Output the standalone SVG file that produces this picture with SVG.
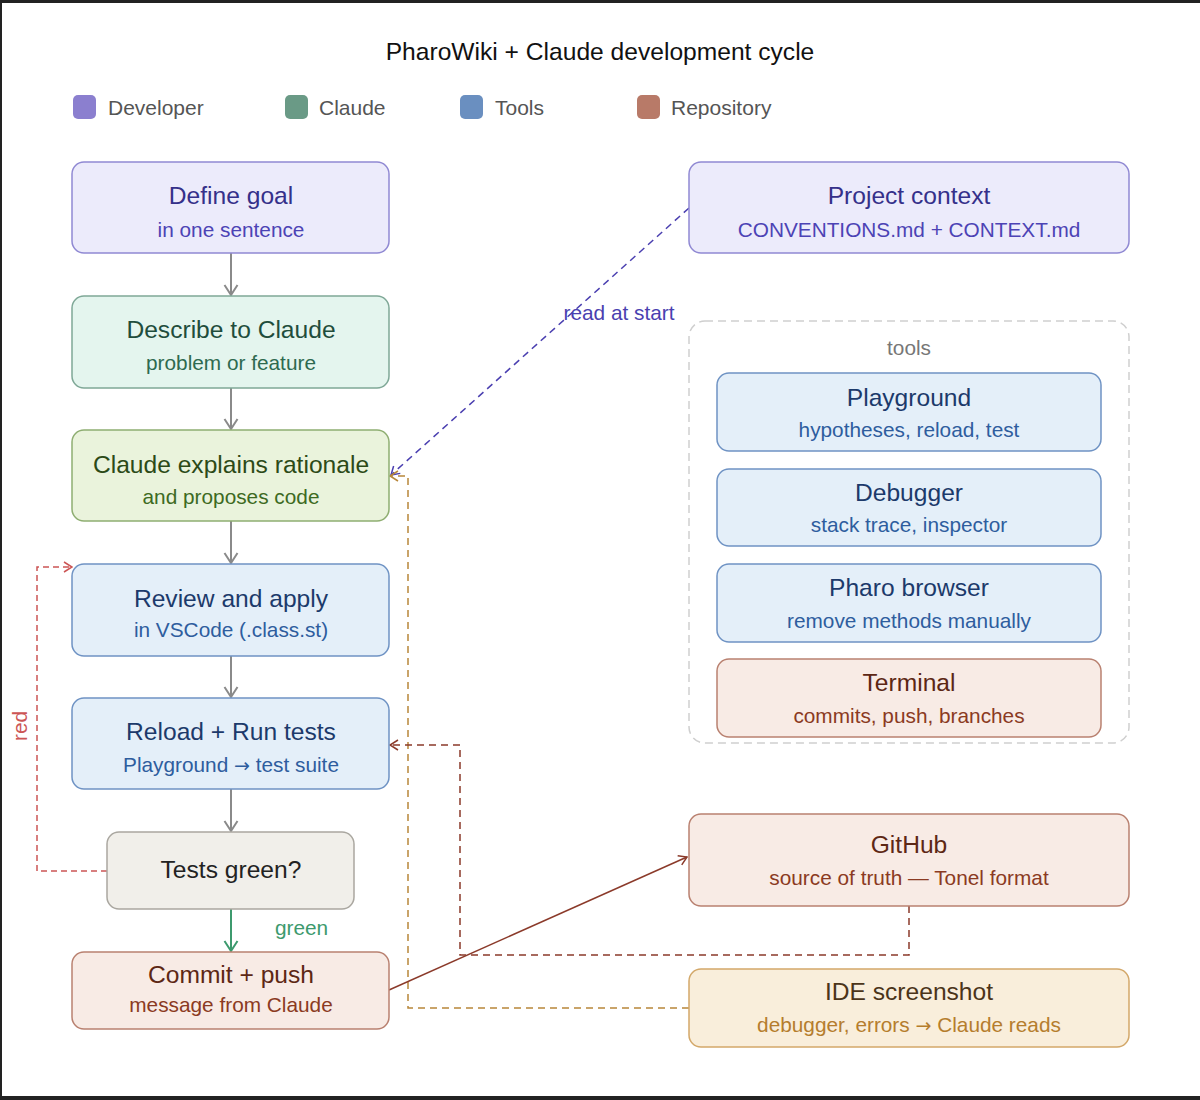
<svg xmlns="http://www.w3.org/2000/svg" width="1200" height="1100" viewBox="0 0 1200 1100">
<defs>
<style>
text{font-family:"Liberation Sans",Arial,sans-serif;}
.t{font-size:24.6px;text-anchor:middle;}
.s{font-size:20.8px;text-anchor:middle;}
.lg{font-size:21px;fill:#555;}
.ar{font-family:"DejaVu Sans",sans-serif;font-size:19px;}
.node{stroke-width:1.5;}
.dev{fill:#ecebfb;stroke:#9089d3;}
.dev .t{fill:#35308a;} .dev .s{fill:#4c43b5;}
.cl1{fill:#e4f5ee;stroke:#7fa897;}
.cl2{fill:#eaf3dc;stroke:#8fae72;}
.tool{fill:#e4eff9;stroke:#6f93c4;}
.dec{fill:#f1efea;stroke:#aaa7a0;}
.repo{fill:#f8ebe5;stroke:#b98170;}
.ide{fill:#f9eedb;stroke:#d3a86a;}
.e{fill:none;}
.gray{stroke:#8a8a8a;stroke-width:2;}
.grn{stroke:#3d9a6e;stroke-width:2;}
.red{stroke:#cc5555;stroke-width:1.5;stroke-dasharray:6 4;}
.pur{stroke:#4a3fb0;stroke-width:1.5;stroke-dasharray:7 5;}
.org{stroke:#b8873a;stroke-width:1.5;stroke-dasharray:7 5;}
.brd{stroke:#8b3a2a;stroke-width:1.5;stroke-dasharray:7 5;}
.brs{stroke:#8b3a2a;stroke-width:1.5;}
</style>
<marker id="mGray" markerUnits="userSpaceOnUse" markerWidth="12" markerHeight="16" viewBox="0 0 12 16" refX="11" refY="8" orient="auto"><path d="M1,1.5 L11,8 L1,14.5" fill="none" stroke="#8a8a8a" stroke-width="2"/></marker>
<marker id="mGrn" markerUnits="userSpaceOnUse" markerWidth="12" markerHeight="16" viewBox="0 0 12 16" refX="11" refY="8" orient="auto"><path d="M1,1.5 L11,8 L1,14.5" fill="none" stroke="#3d9a6e" stroke-width="2"/></marker>
<marker id="mRed" markerUnits="userSpaceOnUse" markerWidth="10" markerHeight="12" viewBox="0 0 10 12" refX="9" refY="6" orient="auto"><path d="M1,1 L9,6 L1,11" fill="none" stroke="#cc5555" stroke-width="1.5"/></marker>
<marker id="mPur" markerUnits="userSpaceOnUse" markerWidth="10" markerHeight="12" viewBox="0 0 10 12" refX="9" refY="6" orient="auto"><path d="M1,1 L9,6 L1,11" fill="none" stroke="#4a3fb0" stroke-width="1.5"/></marker>
<marker id="mOrg" markerUnits="userSpaceOnUse" markerWidth="10" markerHeight="12" viewBox="0 0 10 12" refX="9" refY="6" orient="auto"><path d="M1,1 L9,6 L1,11" fill="none" stroke="#b8873a" stroke-width="1.5"/></marker>
<marker id="mBrd" markerUnits="userSpaceOnUse" markerWidth="10" markerHeight="12" viewBox="0 0 10 12" refX="9" refY="6" orient="auto"><path d="M1,1 L9,6 L1,11" fill="none" stroke="#8b3a2a" stroke-width="1.5"/></marker>
</defs>
<rect x="0" y="0" width="1200" height="1100" fill="#ffffff"/>
<rect x="0" y="0" width="1200" height="3" fill="#222"/>
<rect x="0" y="0" width="2" height="1100" fill="#222"/>
<rect x="0" y="1096" width="1200" height="4" fill="#222"/>

<text x="600" y="60" class="t" fill="#111">PharoWiki + Claude development cycle</text>

<g id="legend">
<rect x="73" y="95" width="23" height="24" rx="5" fill="#8b7fcf"/><text x="108" y="115" class="lg">Developer</text>
<rect x="285" y="95" width="23" height="24" rx="5" fill="#6a9a86"/><text x="319" y="115" class="lg">Claude</text>
<rect x="460" y="95" width="23" height="24" rx="5" fill="#6a8fc0"/><text x="495" y="115" class="lg">Tools</text>
<rect x="637" y="95" width="23" height="24" rx="5" fill="#b87a68"/><text x="671" y="115" class="lg">Repository</text>
</g>

<g id="tools-group">
<rect x="689" y="321" width="440" height="422" rx="16" fill="none" stroke="#cfcfcf" stroke-width="1.5" stroke-dasharray="8 5"/>
<text x="909" y="355" class="s" fill="#777">tools</text>
</g>

<g id="connectors">
<path class="e gray" d="M231,253 V295" marker-end="url(#mGray)"/>
<path class="e gray" d="M231,388 V429" marker-end="url(#mGray)"/>
<path class="e gray" d="M231,521 V563" marker-end="url(#mGray)"/>
<path class="e gray" d="M231,656 V697" marker-end="url(#mGray)"/>
<path class="e gray" d="M231,789 V831" marker-end="url(#mGray)"/>
<path class="e grn" d="M231,909 V951" marker-end="url(#mGrn)"/>
<text x="275" y="935" font-size="20.8" fill="#3d9a6e">green</text>
<path class="e red" d="M107,871 H37 V567 H72" marker-end="url(#mRed)"/>
<text transform="translate(27,726) rotate(-90)" font-size="20.8" fill="#cc5555" text-anchor="middle">red</text>
<path class="e pur" d="M689,208 L391,475" marker-end="url(#mPur)"/>
<text x="619" y="320" font-size="20.8" fill="#4a3fb0" text-anchor="middle">read at start</text>
<path class="e org" d="M689,1008 H408 V476 H390" marker-end="url(#mOrg)"/>
<path class="e brd" d="M909,906 V955 H460 V745 H390" marker-end="url(#mBrd)"/>
<path class="e brs" d="M389,990 L687,857" marker-end="url(#mBrd)"/>
</g>

<g id="define-goal" class="dev">
<rect class="node" x="72" y="162" width="317" height="91" rx="12"/>
<text x="231" y="204" class="t" stroke="none">Define goal</text>
<text x="231" y="237" class="s" stroke="none">in one sentence</text>
</g>
<g id="describe">
<rect class="node cl1" x="72" y="296" width="317" height="92" rx="12"/>
<text x="231" y="338" class="t" fill="#1f4d3c">Describe to Claude</text>
<text x="231" y="370" class="s" fill="#2e6a50">problem or feature</text>
</g>
<g id="explains">
<rect class="node cl2" x="72" y="430" width="317" height="91" rx="12"/>
<text x="231" y="473" class="t" fill="#2c4a17">Claude explains rationale</text>
<text x="231" y="504" class="s" fill="#3d6a22">and proposes code</text>
</g>
<g id="review">
<rect class="node tool" x="72" y="564" width="317" height="92" rx="12"/>
<text x="231" y="607" class="t" fill="#1c3a6b">Review and apply</text>
<text x="231" y="637" class="s" fill="#2e5d9e">in VSCode (.class.st)</text>
</g>
<g id="reload">
<rect class="node tool" x="72" y="698" width="317" height="91" rx="12"/>
<text x="231" y="740" class="t" fill="#1c3a6b">Reload + Run tests</text>
<text x="231" y="772" class="s" fill="#2e5d9e">Playground <tspan class="ar">→</tspan> test suite</text>
</g>
<g id="tests-green">
<rect class="node dec" x="107" y="832" width="247" height="77" rx="12"/>
<text x="231" y="878" class="t" fill="#222">Tests green?</text>
</g>
<g id="commit">
<rect class="node repo" x="72" y="952" width="317" height="77" rx="12"/>
<text x="231" y="983" class="t" fill="#5d2714">Commit + push</text>
<text x="231" y="1012" class="s" fill="#8b3a22">message from Claude</text>
</g>

<g id="project-context" class="dev">
<rect class="node" x="689" y="162" width="440" height="91" rx="12"/>
<text x="909" y="204" class="t" stroke="none">Project context</text>
<text x="909" y="237" class="s" stroke="none">CONVENTIONS.md + CONTEXT.md</text>
</g>
<g id="playground">
<rect class="node tool" x="717" y="373" width="384" height="78" rx="12"/>
<text x="909" y="406" class="t" fill="#1c3a6b">Playground</text>
<text x="909" y="437" class="s" fill="#2e5d9e">hypotheses, reload, test</text>
</g>
<g id="debugger">
<rect class="node tool" x="717" y="469" width="384" height="77" rx="12"/>
<text x="909" y="501" class="t" fill="#1c3a6b">Debugger</text>
<text x="909" y="532" class="s" fill="#2e5d9e">stack trace, inspector</text>
</g>
<g id="pharo-browser">
<rect class="node tool" x="717" y="564" width="384" height="78" rx="12"/>
<text x="909" y="596" class="t" fill="#1c3a6b">Pharo browser</text>
<text x="909" y="628" class="s" fill="#2e5d9e">remove methods manually</text>
</g>
<g id="terminal">
<rect class="node repo" x="717" y="659" width="384" height="78" rx="12"/>
<text x="909" y="691" class="t" fill="#5d2714">Terminal</text>
<text x="909" y="723" class="s" fill="#8b3a22">commits, push, branches</text>
</g>
<g id="github">
<rect class="node repo" x="689" y="814" width="440" height="92" rx="12"/>
<text x="909" y="853" class="t" fill="#5d2714">GitHub</text>
<text x="909" y="885" class="s" fill="#8b3a22">source of truth — Tonel format</text>
</g>
<g id="ide-screenshot">
<rect class="node ide" x="689" y="969" width="440" height="78" rx="12"/>
<text x="909" y="1000" class="t" fill="#4b3419">IDE screenshot</text>
<text x="909" y="1032" class="s" fill="#b57d2d">debugger, errors <tspan class="ar">→</tspan> Claude reads</text>
</g>
</svg>
